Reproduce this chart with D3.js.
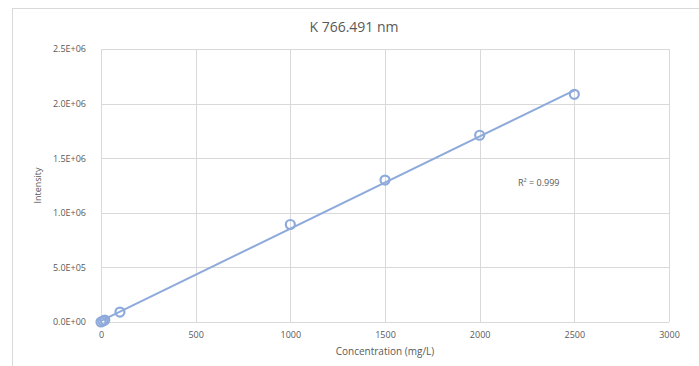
<!DOCTYPE html>
<html>
<head>
<meta charset="utf-8">
<script src="https://cdn.jsdelivr.net/npm/d3@7"></script>
<style>
body { margin: 0; background: #fff; }
text { font-family: "Open Sans", "Liberation Sans", sans-serif; fill: #595959; }
</style>
</head>
<body>
<script>
// K 766.491 nm calibration
var concentration = [0, 10, 20, 100, 1000, 1500, 2000, 2500];
var intensity = [0, 9000, 18000, 91000, 893000, 1300000, 1710000, 2085000];
var xTicks = [0, 500, 1000, 1500, 2000, 2500, 3000];
var yTicks = [0, 500000, 1000000, 1500000, 2000000, 2500000];
var yTickLabels = ["0.0E+00", "5.0E+05", "1.0E+06", "1.5E+06", "2.0E+06", "2.5E+06"];

var w = 699, h = 366;
var margin = {left: 101, right: 30, top: 49, bottom: 44};
var color = "#8eaadb";

var svg = d3.select("body").append("svg")
    .attr("width", w)
    .attr("height", h);

// chart frame
svg.append("rect")
    .attr("x", 12.5).attr("y", 8.5)
    .attr("width", w).attr("height", h)
    .attr("fill", "none")
    .attr("stroke", "#d9d9d9");

var x = d3.scaleLinear().domain([0, 3000]).range([margin.left, w - margin.right]);
var y = d3.scaleLinear().domain([0, 2500000]).range([h - margin.bottom, margin.top]);

// gridlines
svg.selectAll("line.vgrid")
    .data(xTicks)
    .enter().append("line")
    .attr("x1", function(d){return Math.round(x(d)) + 0.5;})
    .attr("x2", function(d){return Math.round(x(d)) + 0.5;})
    .attr("y1", y(2500000)).attr("y2", y(0))
    .attr("stroke", "#d9d9d9");
svg.selectAll("line.hgrid")
    .data(yTicks)
    .enter().append("line")
    .attr("y1", function(d){return Math.round(y(d)) + 0.5;})
    .attr("y2", function(d){return Math.round(y(d)) + 0.5;})
    .attr("x1", x(0)).attr("x2", x(3000))
    .attr("stroke", "#d9d9d9");

// axes
var xAxis = svg.append("g")
    .attr("transform", "translate(0," + y(0) + ")")
    .call(d3.axisBottom(x).tickValues(xTicks).tickSize(0).tickPadding(10)
        .tickFormat(d3.format("d")));
xAxis.select(".domain").remove();
xAxis.selectAll("text").attr("font-size", 9).style("fill", "#595959");

var yAxis = svg.append("g")
    .attr("transform", "translate(" + (x(0) - 12) + ",0)")
    .call(d3.axisLeft(y).tickValues(yTicks).tickSize(0)
        .tickFormat(function(d, i){return yTickLabels[i];}));
yAxis.select(".domain").remove();
yAxis.selectAll("text").attr("font-size", 9).style("fill", "#595959");

// linear fit
var n = concentration.length;
var mx = d3.mean(concentration), my = d3.mean(intensity);
var sxy = 0, sxx = 0;
for (var i = 0; i < n; i++) {
    sxy += (concentration[i] - mx) * (intensity[i] - my);
    sxx += (concentration[i] - mx) * (concentration[i] - mx);
}
var slope = sxy / sxx;
var intercept = my - slope * mx;
var fitX = d3.extent(concentration);

svg.append("line")
    .attr("x1", x(fitX[0])).attr("y1", y(intercept + slope * fitX[0]))
    .attr("x2", x(fitX[1])).attr("y2", y(intercept + slope * fitX[1]))
    .attr("stroke", color)
    .attr("stroke-width", 2);

svg.selectAll("circle")
    .data(concentration)
    .enter().append("circle")
    .attr("cx", function(d){return x(d);})
    .attr("cy", function(d, i){return y(intensity[i]);})
    .attr("r", 4.5)
    .attr("fill", "none")
    .attr("stroke", color)
    .attr("stroke-width", 2.2);

// texts
svg.append("text")
    .attr("x", 354).attr("y", 32)
    .attr("text-anchor", "middle")
    .attr("font-size", 14)
    .text("K 766.491 nm");

svg.append("text")
    .attr("x", (x(0) + x(3000)) / 2).attr("y", 355)
    .attr("text-anchor", "middle")
    .attr("font-size", 10)
    .text("Concentration (mg/L)");

svg.append("text")
    .attr("transform", "translate(41," + y(1250000) + ") rotate(-90)")
    .attr("text-anchor", "middle")
    .attr("font-size", 9)
    .text("Intensity");

svg.append("text")
    .attr("x", 518).attr("y", 186)
    .attr("font-size", 9)
    .text("R² = 0.999");
</script>
</body>
</html>
